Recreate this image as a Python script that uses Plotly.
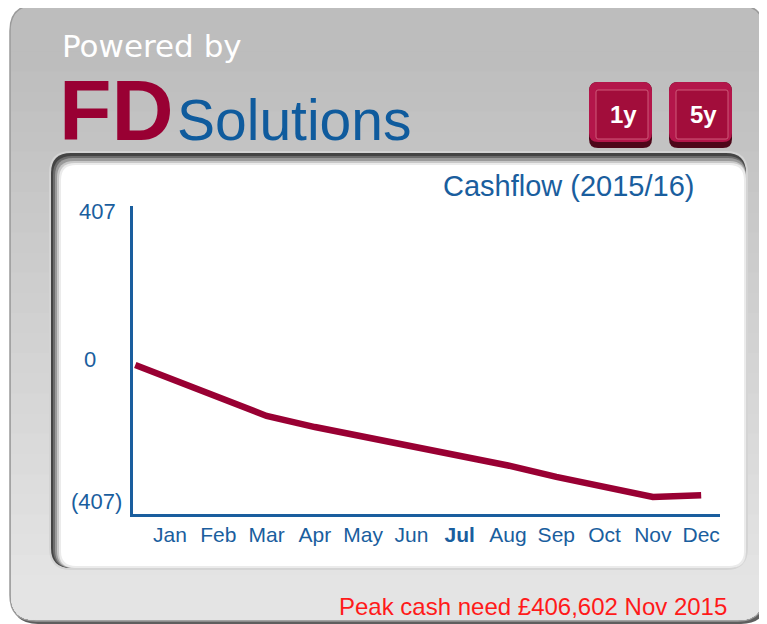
import plotly.graph_objects as go

# ---------------- data ----------------
months = ["Jan", "Feb", "Mar", "Apr", "May", "Jun", "Jul", "Aug", "Sep", "Oct", "Nov", "Dec"]
month_ticktext = ["Jan", "Feb", "Mar", "Apr", "May", "Jun", "<b>Jul</b>", "Aug", "Sep", "Oct", "Nov", "Dec"]
opening_balance = -15            # £k, start of the year (at the axis)
cashflow_k = [-54, -108, -166, -199, -227, -256, -286, -313, -347, -377, -406.6, -401]  # £k
y_tick_labels = ["407", "0", "(407)"]
title_text = "Cashflow (2015/16)"
footer_text = "Peak cash need £406,602 Nov 2015"
buttons = ["1y", "5y"]

# ---------------- geometry helpers (reference pixel -> paper) ----------------
OFF = 8                      # page body margin of the browser
W, H = 767 - OFF, 624 - OFF
PL, PR, PT, PB = 133, 720, 206, 514     # plot area in reference pixels
ML, MR, MT, MB = PL - OFF, W - (PR - OFF), PT - OFF, H - (PB - OFF)
PW, PH = PR - PL, PB - PT


def X(x):
    return (x - PL) / PW


def Y(y):
    return (PB - y) / PH


def rrect(x0, y0, x1, y1, rt, rb=None):
    if rb is None:
        rb = rt
    p = (f"M {X(x0 + rt)},{Y(y0)} L {X(x1 - rt)},{Y(y0)} Q {X(x1)},{Y(y0)} {X(x1)},{Y(y0 + rt)} "
         f"L {X(x1)},{Y(y1 - rb)} Q {X(x1)},{Y(y1)} {X(x1 - rb)},{Y(y1)} "
         f"L {X(x0 + rb)},{Y(y1)} Q {X(x0)},{Y(y1)} {X(x0)},{Y(y1 - rb)} "
         f"L {X(x0)},{Y(y0 + rt)} Q {X(x0)},{Y(y0)} {X(x0 + rt)},{Y(y0)} Z")
    return p


shapes = []


def add_path(path, fill, line_color=None, line_width=0):
    shapes.append(dict(type="path", path=path, xref="paper", yref="paper", layer="below",
                       fillcolor=fill,
                       line=dict(color=line_color or fill, width=line_width)))


def lerp(c0, c1, t):
    return "#%02x%02x%02x" % tuple(int(round(a + (b - a) * t)) for a, b in zip(c0, c1))


# outer panel shadow + body
add_path(rrect(12, 8, 767, 624, 26), "#5e5e5e")
add_path(rrect(10, 5, 764, 621, 26), "#bdbdbd", "#9a9a9a", 1.5)
top_c, bot_c = (188, 188, 188), (228, 228, 228)
n = 28
for i in range(1, n):
    y0 = 5 + 26 + (590 - 26) * i / n
    add_path(rrect(11, y0, 763, 620, 0, 25), lerp(top_c, bot_c, i / (n - 1)))
# top highlight
shapes.append(dict(type="line", xref="paper", yref="paper", layer="below",
                   x0=X(34), x1=X(740), y0=Y(7), y1=Y(7), line=dict(color="#dcdcdc", width=2)))

# inner white panel with bevel
add_path(rrect(49, 151, 748, 570, 22), "#d4d4d4")
add_path(rrect(51, 153, 746, 568, 20), "#444444")
add_path(rrect(53, 156, 746, 568, 19), "#6c6c6c")
add_path(rrect(55, 158, 746, 568, 18), "#9a9a9a")
add_path(rrect(57, 161, 746, 568, 17), "#c8c8c8")
add_path(rrect(59, 163, 746, 568, 16), "#ebebeb")
add_path(rrect(61, 165, 744, 566, 15), "#ffffff")

# buttons
annotations = []
for i, label in enumerate(buttons):
    bx = 589 + 80 * i
    add_path(rrect(bx, 82, bx + 63, 148, 9), "#4e0619")
    add_path(rrect(bx, 82, bx + 63, 142, 9), "#b3164a")
    add_path(rrect(bx + 7, 90, bx + 59, 139, 2), "#a20d3b", "#cf5a7a", 1)
    annotations.append(dict(text=f"<b>{label}</b>", x=X(bx + 34), y=Y(114), xref="paper", yref="paper",
                            xanchor="center", yanchor="middle", showarrow=False,
                            font=dict(family="Liberation Sans, Arial", size=24, color="white")))

# header logo texts
annotations += [
    dict(text="Powered by", x=X(60), y=Y(46), xref="paper", yref="paper", xanchor="left", yanchor="middle",
         showarrow=False, font=dict(family="DejaVu Sans", size=31, color="white")),
    dict(text="<b>FD</b>", x=X(57), y=Y(110), xref="paper", yref="paper", xanchor="left", yanchor="middle",
         showarrow=False, font=dict(family="Liberation Sans, Arial", size=86, color="#990033")),
    dict(text="Solutions", x=X(175), y=Y(120), xref="paper", yref="paper", xanchor="left", yanchor="middle",
         showarrow=False, font=dict(family="Liberation Sans, Arial", size=57, color="#0f5b9d")),
    dict(text=title_text, x=X(568), y=Y(186), xref="paper", yref="paper", xanchor="center", yanchor="middle",
         showarrow=False, font=dict(family="Liberation Sans, Arial", size=29, color="#1a5e9e")),
    dict(text=footer_text, x=X(729), y=Y(606), xref="paper", yref="paper", xanchor="right", yanchor="middle",
         showarrow=False, font=dict(family="Liberation Sans, Arial", size=24, color="#ff1a1a")),
]

# y-axis labels (placed like the original widget)
ylab_pos = [(97, 212), (90, 359), (96, 501)]
for txt, (lx, ly) in zip(y_tick_labels, ylab_pos):
    annotations.append(dict(text=txt, x=X(lx), y=Y(ly), xref="paper", yref="paper",
                            xanchor="center", yanchor="middle", showarrow=False,
                            font=dict(family="Liberation Sans, Arial", size=22, color="#1a5e9e")))

# ---------------- chart ----------------
opening_x = -0.72
xs = [opening_x] + list(range(len(months)))
ys = [opening_balance] + cashflow_k

fig = go.Figure()
fig.add_trace(go.Scatter(x=xs, y=ys, mode="lines", line=dict(color="#990033", width=6.5),
                         hoverinfo="skip", showlegend=False))

axis_color = "#1a5e9e"
fig.update_layout(
    width=W, height=H,
    margin=dict(l=ML, r=MR, t=MT, b=MB, pad=0),
    paper_bgcolor="white", plot_bgcolor="rgba(0,0,0,0)",
    shapes=shapes, annotations=annotations, showlegend=False,
    xaxis=dict(range=[-0.767, 11.39], tickmode="array", tickvals=list(range(len(months))),
               ticktext=month_ticktext, showgrid=False, zeroline=False, showline=True,
               linecolor=axis_color, linewidth=2.5, ticks="", ticklabelstandoff=0,
               tickfont=dict(family="Liberation Sans, Arial", size=21, color=axis_color),
               fixedrange=True),
    yaxis=dict(range=[-457, 457], showgrid=False, zeroline=False, showline=True,
               linecolor=axis_color, linewidth=2.5, showticklabels=False, ticks="",
               fixedrange=True),
)

fig.write_html("out.html")
